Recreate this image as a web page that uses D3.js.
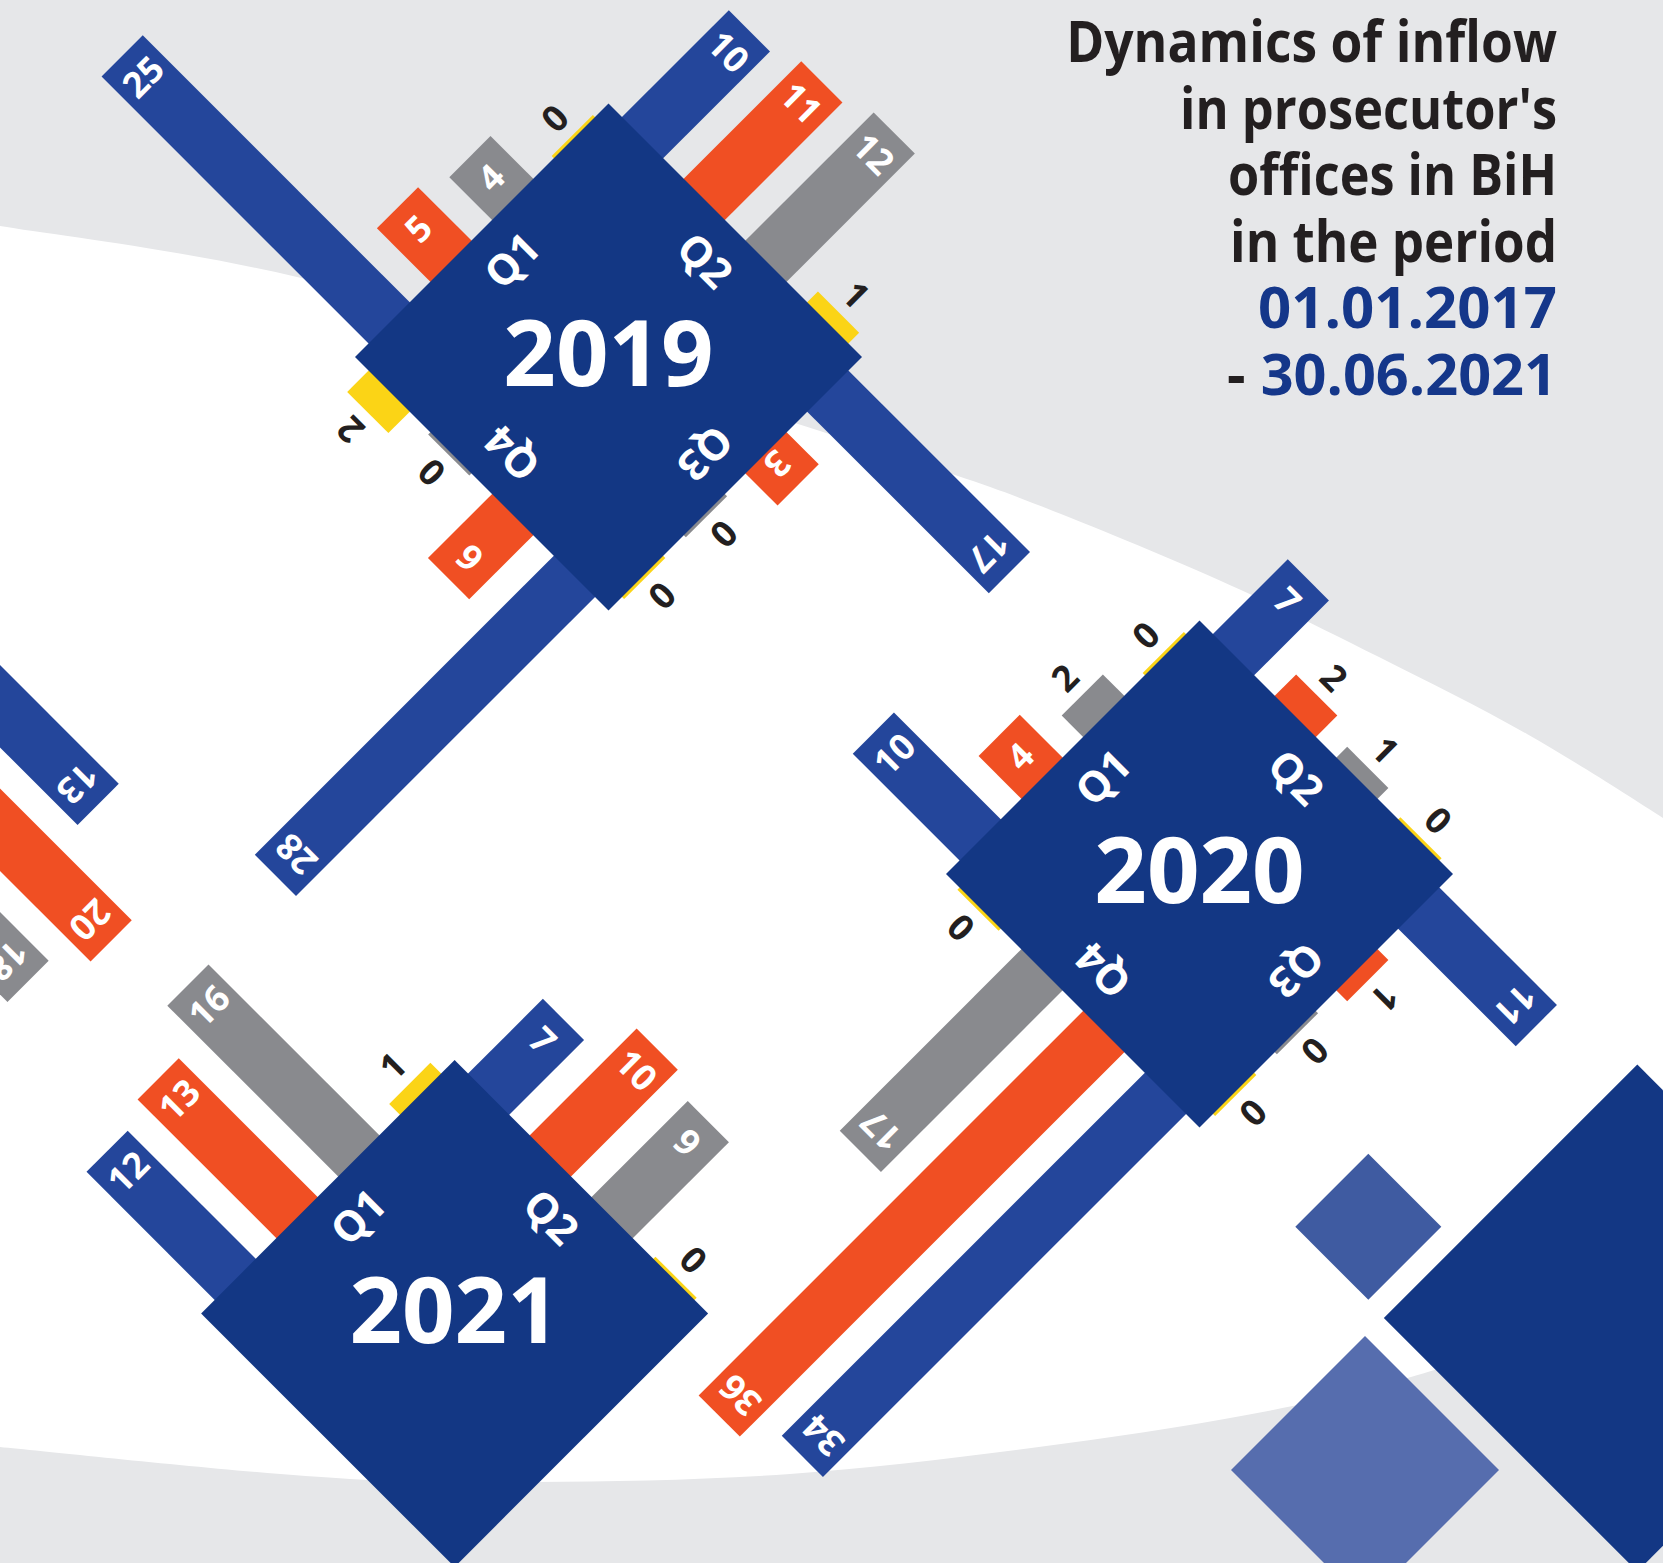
<!DOCTYPE html>
<html>
<head>
<meta charset="utf-8">
<script src="https://cdn.jsdelivr.net/npm/d3@7"></script>
<style>
html,body{margin:0;padding:0;background:#e6e7e9;}
svg{display:block;}
text{font-family:"Open Sans","Noto Sans",sans-serif;font-weight:700;}
</style>
</head>
<body>
<svg id="chart" width="1663" height="1563"></svg>
<script>
// ---------------- DATA ----------------
const years = ["2018", "2019", "2020", "2021"];
const quarters = ["Q1", "Q2", "Q3", "Q4"];
const seriesNames = ["Series 1", "Series 2", "Series 3", "Series 4"];
// values per quarter, in series order (null = not shown / not available)
const values2018 = [null, null, [13, 20, 18, null], null];
const values2019 = [[25, 5, 4, 0], [10, 11, 12, 1], [17, 3, 0, 0], [28, 6, 0, 2]];
const values2020 = [[10, 4, 2, 0], [7, 2, 1, 0], [11, 1, 0, 0], [34, 36, 17, 0]];
const values2021 = [[12, 13, 16, 1], [7, 10, 9, 0], null, null];
const titleLines = ["Dynamics of inflow", "in prosecutor's", "offices in BiH", "in the period"];
const periodStart = "01.01.2017";
const periodEnd = "30.06.2021";

// ---------------- LAYOUT / STYLE ----------------
const W = 1663, Hh = 1563;
const yearValues = [values2018, values2019, values2020, values2021];
const centers = [[-260, 631.5], [608.5, 357], [1199.5, 874], [454.6, 1313.5]];
const R = 253.5;              // half diagonal of a year diamond
const HS = R / Math.SQRT2;    // half side
const colors = {"Series 1": "#24469b", "Series 2": "#f04f23", "Series 3": "#898a8e", "Series 4": "#fbd416"};
const diamondColor = "#133784";
const darkText = "#231f20";
const blueText = "#15378a";

const svg = d3.select("#chart");

// background
svg.append("rect").attr("width", W).attr("height", Hh).attr("fill", "#e6e7e9");
const topCurve = [[-30, 221], [0, 226], [297, 277], [955, 475], [1061, 514], [1241, 590], [1379, 657], [1527, 734], [1663, 818], [1700, 843]];
const botCurve = [[1700, 1276], [1663, 1290], [1411, 1377], [1273, 1410], [1061, 1444], [790, 1474], [536, 1482], [350, 1479], [0, 1447], [-30, 1444]];
const lineGen = d3.line().curve(d3.curveCatmullRom.alpha(0.5));
svg.append("path")
  .attr("d", lineGen(topCurve) + "L" + lineGen(botCurve).slice(1) + "Z")
  .attr("fill", "#ffffff");

// decorative diamonds
const decor = [
  {c: [1368.3, 1226.8], r: 73, fill: "#3f5ba1"},
  {c: [1365, 1470], r: 134, fill: "#566dae"},
  {c: [1637.3, 1318], r: 253.5, fill: diamondColor}
];
const diamondPts = (c, r) => [[c[0], c[1] - r], [c[0] + r, c[1]], [c[0], c[1] + r], [c[0] - r, c[1]]].map(p => p.join(",")).join(" ");
svg.append("g").selectAll("polygon").data(decor).join("polygon")
  .attr("points", d => diamondPts(d.c, d.r)).attr("fill", d => d.fill);

// scales
const band = d3.scaleBand().domain(seriesNames).range([-HS, HS]).paddingInner(0.333).paddingOuter(0.219);
const len = d3.scaleLinear().domain([0, 36]).range([0, 36 * 15.1]);
const barLen = v => Math.max(len(v), 3);

const gBars = svg.append("g");
const gDiam = svg.append("g");
const gLab = svg.append("g");

years.forEach((yr, yi) => {
  const [cx, cy] = centers[yi];
  gDiam.append("polygon").attr("points", diamondPts([cx, cy], R)).attr("fill", diamondColor);
  gLab.append("text")
    .attr("x", cx).attr("y", cy + 29)
    .attr("text-anchor", "middle")
    .attr("font-size", 92)
    .attr("fill", "#ffffff")
    .text(yr);

  yearValues[yi].forEach((qv, qi) => {
    if (!qv) return;
    const tr = `translate(${cx},${cy}) rotate(${-45 + 90 * qi})`;
    const items = qv.map((v, si) => ({v, s: seriesNames[si]})).filter(d => d.v !== null);

    gBars.append("g").attr("transform", tr)
      .selectAll("rect").data(items).join("rect")
      .attr("x", d => band(d.s))
      .attr("width", band.bandwidth())
      .attr("y", d => -HS - barLen(d.v))
      .attr("height", d => barLen(d.v) + 4)
      .attr("fill", d => colors[d.s]);

    const lg = gLab.append("g").attr("transform", tr);
    lg.selectAll("text.val").data(items).join("text")
      .attr("class", "val")
      .attr("x", d => band(d.s) + band.bandwidth() / 2)
      .attr("y", d => d.v >= 3 ? -HS - barLen(d.v) + 29 : -HS - barLen(d.v) - 25)
      .attr("text-anchor", "middle")
      .attr("dominant-baseline", "central")
      .attr("font-size", 36)
      .attr("fill", d => d.v >= 3 ? "#ffffff" : darkText)
      .text(d => d.v);

    lg.append("text")
      .attr("x", 0).attr("y", -138)
      .attr("text-anchor", "middle")
      .attr("dominant-baseline", "central")
      .attr("font-size", 42)
      .attr("fill", "#ffffff")
      .text(quarters[qi]);
  });
});

// title (condensed by horizontal scaling to the measured line widths)
const tx = 1557;
const lineBase = [62, 128.5, 195, 261.5, 328, 395];
const lineWidths = [491, 377, 329, 327, 299, 330];
const gT = svg.append("g");
function titleLine(i) {
  const g = gT.append("g");
  const t = g.append("text")
    .attr("x", 0).attr("y", 0)
    .attr("text-anchor", "end")
    .attr("font-size", 57);
  return {g, t};
}
function fit(obj, i) {
  const natural = obj.t.node().getComputedTextLength();
  const sx = lineWidths[i] / natural;
  obj.g.attr("transform", `translate(${tx},${lineBase[i]}) scale(${sx},1)`);
}
titleLines.forEach((s, i) => {
  const o = titleLine(i);
  o.t.attr("fill", darkText).text(s);
  fit(o, i);
});
const o4 = titleLine(4);
o4.t.attr("fill", blueText).text(periodStart);
fit(o4, 4);
const o5 = titleLine(5);
o5.t.append("tspan").attr("fill", darkText).text("- ");
o5.t.append("tspan").attr("fill", blueText).text(periodEnd);
fit(o5, 5);
</script>
</body>
</html>
